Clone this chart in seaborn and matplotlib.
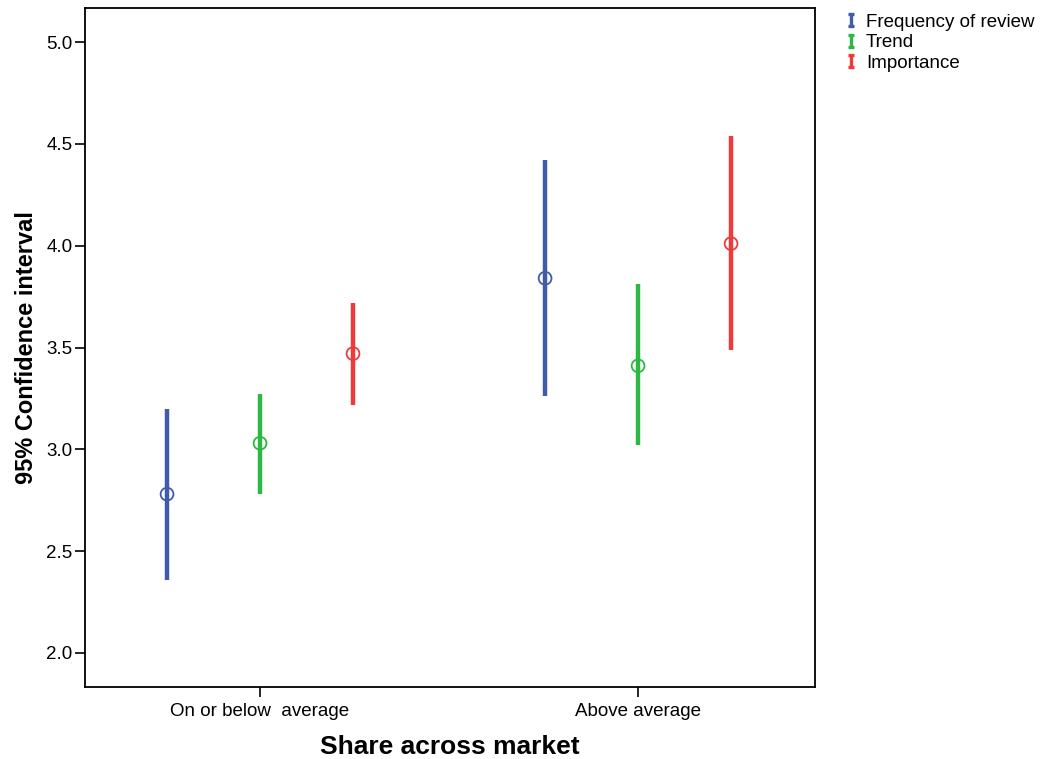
import matplotlib
matplotlib.use("Agg")
import matplotlib.pyplot as plt
import seaborn as sns
import pandas as pd
import numpy as np
from matplotlib.lines import Line2D
from matplotlib.path import Path

sns.set_theme(style="white")
plt.rcParams['font.family'] = ['Liberation Sans', 'DejaVu Sans']

groups = ["On or below  average", "Above average"]
series = ["Frequency of review", "Trend", "Importance"]
means = {
    "Frequency of review": [2.78, 3.84],
    "Trend": [3.03, 3.41],
    "Importance": [3.47, 4.01],
}
lower = {
    "Frequency of review": [2.36, 3.26],
    "Trend": [2.78, 3.02],
    "Importance": [3.22, 3.49],
}
upper = {
    "Frequency of review": [3.20, 4.42],
    "Trend": [3.27, 3.81],
    "Importance": [3.72, 4.54],
}
colors = {"Frequency of review": "#3F5BA9", "Trend": "#2DB843", "Importance": "#EE3A3A"}

rows = []
for s in series:
    for i, g in enumerate(groups):
        rows.append({"group": g, "series": s, "mean": means[s][i],
                     "lo": lower[s][i], "hi": upper[s][i]})
df = pd.DataFrame(rows)

fig = plt.figure(figsize=(10.52, 7.59), dpi=100)
ax = fig.add_axes([85/1052, 1-687/759, 730/1052, 679/759])

offsets = {"Frequency of review": -0.246, "Trend": 0.0, "Importance": 0.246}
gidx = {g: i for i, g in enumerate(groups)}
df["x"] = df["group"].map(gidx) + df["series"].map(offsets)

for s in series:
    d = df[df["series"] == s]
    ax.vlines(d["x"], d["lo"], d["hi"], color=colors[s], lw=3.2, zorder=2)
sns.scatterplot(data=df, x="x", y="mean", hue="series", palette=colors,
                marker="o", s=85, linewidth=1.3,
                legend=False, ax=ax, zorder=3)
coll = ax.collections[-1]
fc = coll.get_facecolors()
coll.set_edgecolors(fc)
coll.set_facecolors("none")

ax.set_xlim(-0.463, 1.468)
ax.set_ylim(1.833, 5.167)
ax.set_xticks(range(len(groups)))
ax.set_xticklabels(groups, fontsize=13.5)
ax.set_yticks([2.0, 2.5, 3.0, 3.5, 4.0, 4.5, 5.0])
ax.set_yticklabels(["2.0", "2.5", "3.0", "3.5", "4.0", "4.5", "5.0"], fontsize=13.5)
ax.tick_params(axis="both", direction="out", length=7, width=1.2, color="black",
               bottom=True, left=True, labelcolor="black")
ax.tick_params(axis="x", pad=4.5)
ax.tick_params(axis="y", pad=2)
for sp in ax.spines.values():
    sp.set_color("black")
    sp.set_linewidth(1.3)
ax.set_xlabel("Share across market", fontsize=19, fontweight="bold", labelpad=11, color="black")
ax.set_ylabel("95% Confidence interval", fontsize=17, fontweight="bold", labelpad=6, color="black")
ax.grid(False)

ibeam = Path([(-0.5, 1), (0.5, 1), (0, 1), (0, -1), (-0.5, -1), (0.5, -1)],
             [Path.MOVETO, Path.LINETO, Path.MOVETO, Path.LINETO, Path.MOVETO, Path.LINETO])
handles = [Line2D([0], [0], lw=0, marker=ibeam, markersize=8.5, markerfacecolor="none",
                  markeredgecolor=colors[s], markeredgewidth=2.4) for s in series]
leg = fig.legend(handles, series, loc="upper left", bbox_to_anchor=(836/1052, 1-6/759),
                 frameon=False, fontsize=13.5, handlelength=0.8, handletextpad=0.4,
                 labelspacing=0.18, borderaxespad=0, labelcolor="black")

fig.savefig("out.png", dpi=100)
